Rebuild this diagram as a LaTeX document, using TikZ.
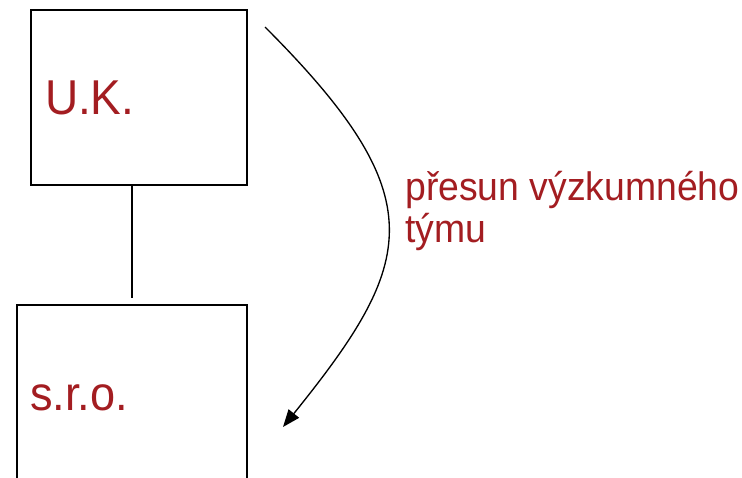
\documentclass[tikz,border=0pt]{standalone}
\usepackage{fontspec}
\setmainfont{Liberation Sans}
\newfontfamily\tallfont[FakeStretch=0.94]{Liberation Sans}
\usetikzlibrary{arrows.meta}
\definecolor{darkred}{RGB}{163,29,33}

\begin{document}
\begin{tikzpicture}[x=0.75pt, y=-0.75pt]

  \tikzstyle{box} = [draw, line width = 1.3pt, align = left, inner xsep = 0pt,
                     text = darkred]
    \tikzstyle{link} = [line width = 1.3pt]

    \useasboundingbox (0,0) rectangle (742,478);
    \clip (0,0) rectangle (742,478);

    \node[box, minimum width = 162pt, minimum height = 131pt, text width = 141pt,
          font = \tallfont\fontsize{36.7}{40}\selectfont]
      (uk) at (139,97.5) {U.K.};
    \node[box, minimum width = 172.5pt, minimum height = 140pt, text width = 153pt,
          font = \tallfont\fontsize{36}{40}\selectfont]
      (sro) at (132,398) {s.r.o.};
    \draw[link, shorten > = 4pt] (uk.south -| sro.north) -- (sro.north);

    \coordinate (from) at (265,27);
    \coordinate (to) at (283,427);
    \draw[line width = 1pt, -{Triangle[length = 13pt, width = 10pt]}]
      (from) .. controls (436,198) and (416,262) .. (to);

    \node[anchor = base west, inner sep = 0pt, align = left, text = darkred,
          font = \tallfont\fontsize{29.8}{31.5}\selectfont] (move) at (405,242)
      {přesun výzkumného\\týmu};
\end{tikzpicture}
\end{document}
